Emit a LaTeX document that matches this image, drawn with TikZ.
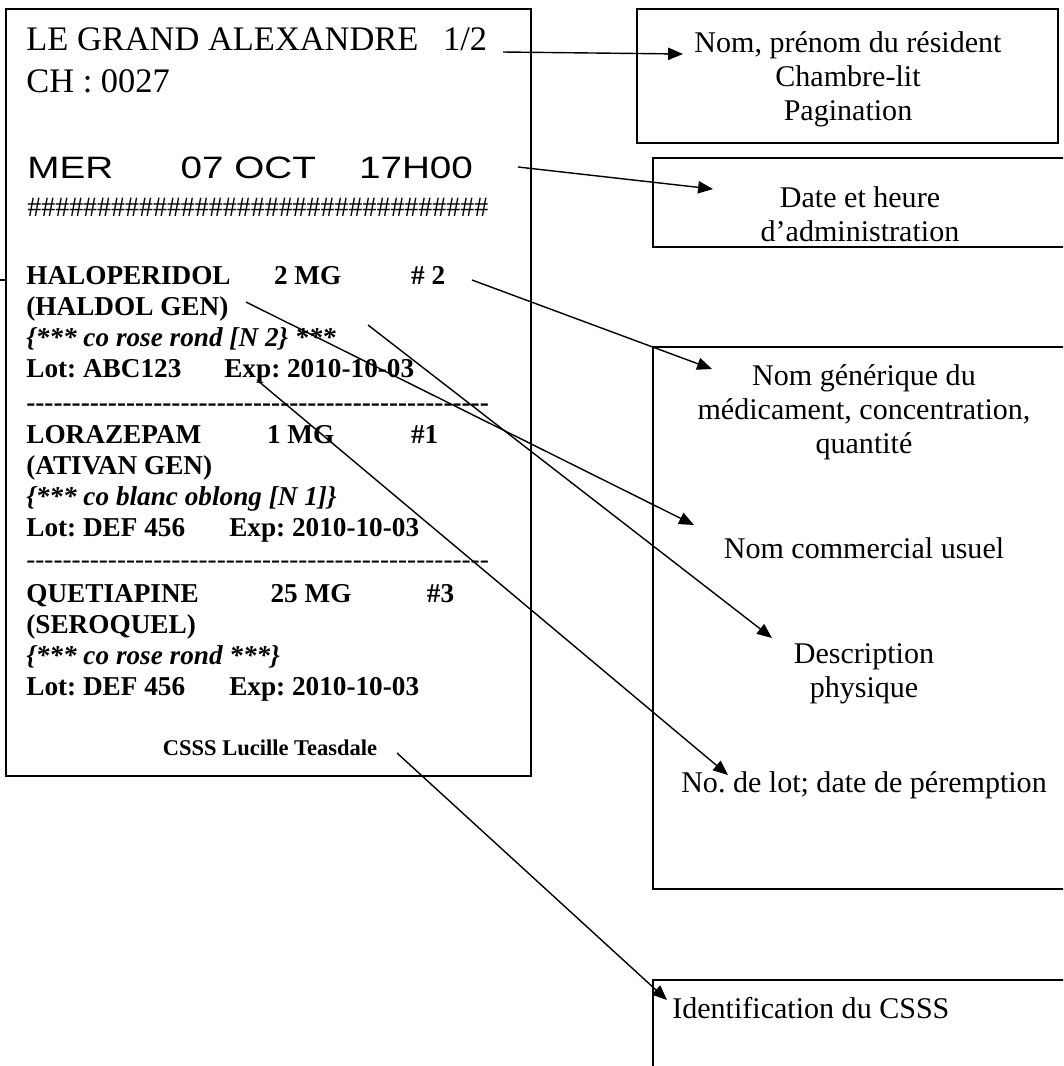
\documentclass[tikz,border=0pt]{standalone}
\usepackage{fontspec}
\setmainfont{Liberation Serif}[Ligatures=TeXOff]
\newfontfamily\datefont{Liberation Sans}[FakeStretch=1.25]
\usetikzlibrary{arrows.meta, positioning}
\frenchspacing

\begin{document}
\begin{tikzpicture}[
    x=0.02cm, y=-0.02cm,
    txt/.style={inner sep=0pt, anchor=base west, align=left},
    lbl/.style={inner sep=0pt, anchor=base, align=center, font=\fontsize{17.1}{19.35}\selectfont},
    medfont/.style={font=\fontsize{15.5}{17.5}\selectfont\bfseries},
    frame/.style={line width=1.1pt},
    arr/.style={-{Triangle[length=8.5pt, width=7pt]}, line width=0.8pt}
]
\fill[white] (0,0) rectangle (1063,1066);
\path[use as bounding box] (0,0) rectangle (1063,1066);
\clip (0,0) rectangle (1063,1066);

% Ticket (multi-line nodes sit on their last baseline)
\draw[frame] (6,9) rectangle (531,776);
\draw[line width=0.8pt] (0,280) -- (6,280);

\node[txt, font=\fontsize{19.6}{23}\selectfont] (resident) at (26,50) {LE GRAND ALEXANDRE\hspace{14pt}1/2};
\node[txt, font=\fontsize{19.6}{23}\selectfont] (room) at (26,92) {CH : 0027};
\node[txt, font=\datefont\fontsize{17.6}{20}\selectfont] (stamp) at (27,178) {\makebox[87.3pt][l]{MER}\makebox[101.5pt][l]{07 OCT}17H00};
\node[txt, font=\fontsize{15.9}{18}\selectfont] (hashrow) at (27,216) {\foreach \k in {1,...,33}{\#}};

\node[txt, medfont] (med1) at (26,377) {\makebox[141pt][l]{HALOPERIDOL}\makebox[78pt][l]{2 MG}\# 2\\
(HALDOL GEN)\\
\textit{\{*** co rose rond [N 2\} ***}\\
\makebox[112.7pt][l]{Lot: ABC123}Exp: 2010-10-03};
\node[txt, medfont] (sep1) at (26,411) {---------------------------------------------------};
\node[txt, medfont] (med2) at (26,536) {\makebox[137pt][l]{LORAZEPAM}\makebox[82pt][l]{1 MG}\#1\\
(ATIVAN GEN)\\
\textit{\{*** co blanc oblong [N 1]\}}\\
\makebox[115.5pt][l]{Lot: DEF 456}Exp: 2010-10-03};
\node[txt, font=\fontsize{15.5}{17.5}\selectfont] (sep2) at (26,568) {---------------------------------------------------};
\node[txt, medfont] (med3) at (26,695) {\makebox[139pt][l]{QUETIAPINE}\makebox[89pt][l]{25 MG}\#3\\
(SEROQUEL)\\
\textit{\{*** co rose rond ***\}}\\
\makebox[115.5pt][l]{Lot: DEF 456}Exp: 2010-10-03};
\node[inner sep=0pt, anchor=base, font=\fontsize{12.8}{15}\selectfont\bfseries] (site) at (270,755) {CSSS Lucille Teasdale};

% Legend boxes
\draw[frame] (637,9) rectangle (1058,143);
\draw[frame] (653,158) rectangle (1075,247);
\draw[frame] (653,347) rectangle (1075,889);
\draw[frame] (653,980) rectangle (1075,1080);

\node[lbl] (who) at (848,120) {Nom, prénom du résident\\Chambre-lit\\Pagination};
\node[lbl] (when) at (860,241) {Date et heure\\d’administration};
\node[lbl] (generic) at (864,453) {Nom générique du\\médicament, concentration,\\quantité};
\node[lbl] (brand) at (864,558) {Nom commercial usuel};
\node[lbl] (descr) at (864,697) {Description\\physique};
\node[lbl] (lot) at (864,792) {No. de lot; date de péremption};
\node[lbl, anchor=base west] (csss) at (672,1018) {Identification du CSSS};

% Arrows
\coordinate (s1) at (503,52);  \coordinate (t1) at (683,54);
\coordinate (s2) at (518,167); \coordinate (t2) at (713,189);
\coordinate (s3) at (472,280); \coordinate (t3) at (712,369);
\coordinate (s4) at (246,302); \coordinate (t4) at (694,525);
\coordinate (s5) at (368,325); \coordinate (t5) at (772,638);
\coordinate (s6) at (257,380); \coordinate (t6) at (728,775);
\coordinate (s7) at (397,753); \coordinate (t7) at (667,1000);

\draw[arr] (s1) -- (t1);
\draw[arr] (s2) -- (t2);
\draw[arr] (s3) -- (t3);
\draw[arr] (s4) -- (t4);
\draw[arr] (s5) -- (t5);
\draw[arr] (s6) -- (t6);
\draw[arr] (s7) -- (t7);
\end{tikzpicture}
\end{document}
